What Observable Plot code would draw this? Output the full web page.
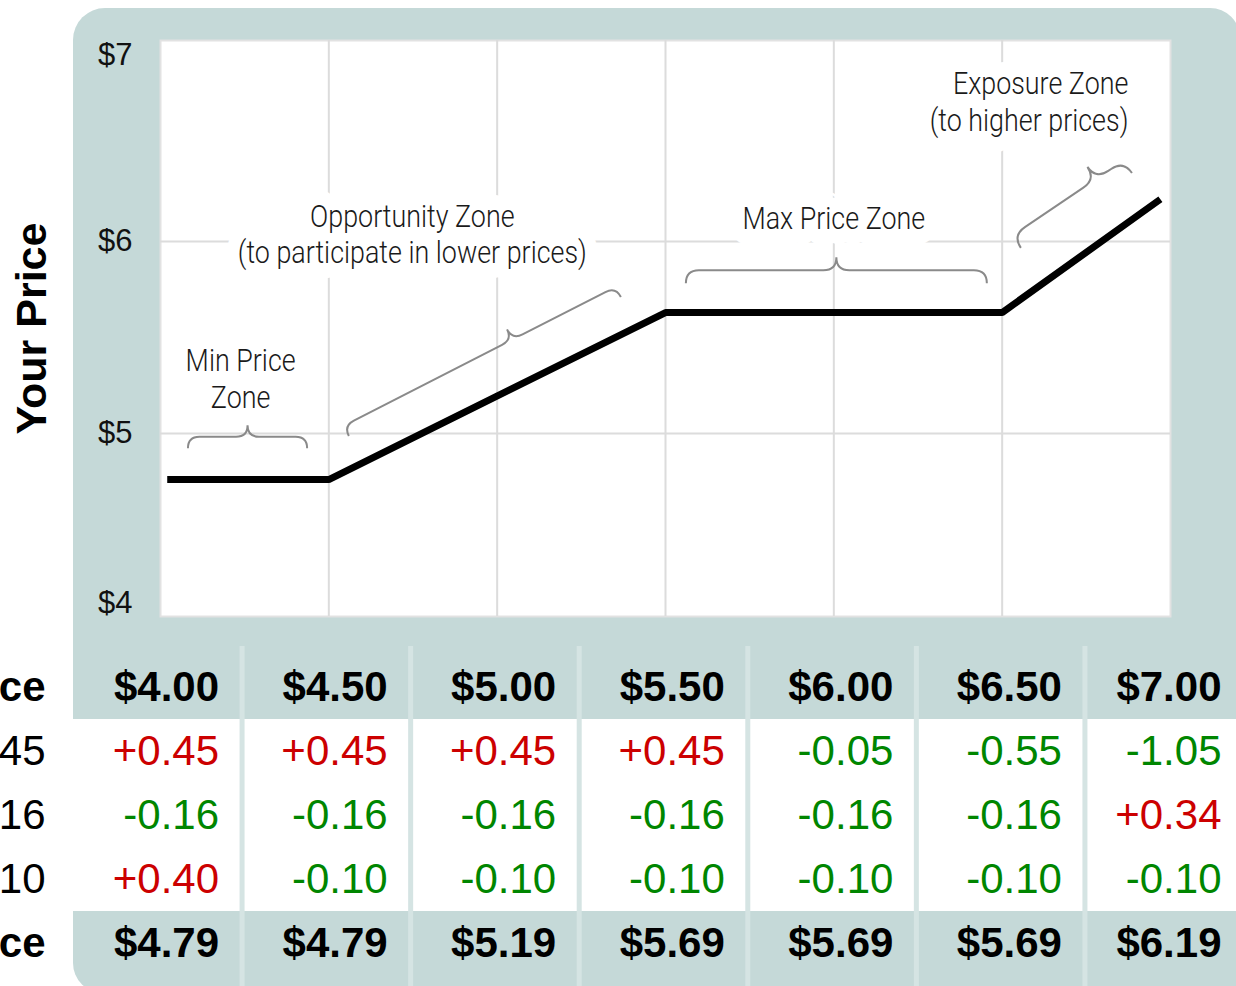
<!DOCTYPE html>
<html><head><meta charset="utf-8">
<script src="https://cdn.jsdelivr.net/npm/d3@7"></script>
<script src="https://cdn.jsdelivr.net/npm/@observablehq/plot@0.6"></script>
<style>
html,body{margin:0;padding:0;background:#fff;}
body{width:1236px;height:986px;overflow:hidden;position:relative;font-family:"Liberation Sans",Arial,sans-serif;}
#panel{position:absolute;left:73px;top:8px;width:1167px;height:985px;background:#c5d9d8;border-radius:32px 30px 0 30px;}
#chart{position:absolute;left:0;top:0;}
#table{position:absolute;left:0;top:630px;}
</style></head><body>
<div id="panel"></div><div id="chart"></div><div id="table"></div>
<script>
// ---- chart data ----
const lineX = [4.02, 4.5, 5.5, 6.5, 6.97];
const lineY = [4.76, 4.76, 5.63, 5.63, 6.22];
const xGrid = [4.5, 5, 5.5, 6, 6.5];
const yGrid = [5, 6];
const yTickMid = [5, 6];
const yTickTop = [7];
const yTickBottom = [4];
const yTitle = "Your Price";

// zone labels (data coordinates)
const zoneText = ["Min Price\nZone", "Opportunity Zone\n(to participate in lower prices)", "Max Price Zone", "Exposure Zone\n(to higher prices)"];
const zoneX = [4.238, 4.748, 6.0, 6.875];
const zoneY = [5.29, 6.042, 6.125, 6.732];
const zoneAlign = ["middle", "middle", "middle", "end"];

// braces (data coordinates of both ends)
const braceX1 = [4.083, 4.561, 5.562, 6.557];
const braceY1 = [4.92, 4.984, 5.78, 5.964];
const braceX2 = [4.437, 5.369, 6.456, 6.887];
const braceY2 = [4.92, 5.708, 5.78, 6.354];
const braceTip = [0.5, 0.62, 0.5, 0.75];

// ---- table data ----
const prices = ["$4.00", "$4.50", "$5.00", "$5.50", "$6.00", "$6.50", "$7.00"];
const adj1 = ["+0.45", "+0.45", "+0.45", "+0.45", "-0.05", "-0.55", "-1.05"];
const adj2 = ["-0.16", "-0.16", "-0.16", "-0.16", "-0.16", "-0.16", "+0.34"];
const adj3 = ["+0.40", "-0.10", "-0.10", "-0.10", "-0.10", "-0.10", "-0.10"];
const yourPrices = ["$4.79", "$4.79", "$5.19", "$5.69", "$5.69", "$5.69", "$6.19"];
const rowLabels = ["ce", "45", "16", "10", "ce"];

const TEAL_SEP = "#d5e4e3";
const GRID = "#dcdcdc";
const RED = "#cc0000";
const GREEN = "#008600";
const ZONE_FONT = "Roboto, Liberation Sans, Arial, sans-serif";
const ZONE_SQUEEZE = 0.84;

const points = lineX.map((x, i) => ({x, y: lineY[i]}));
const zones = zoneText.map((t, i) => ({t, x: zoneX[i], y: zoneY[i], a: zoneAlign[i]}));
const braces = braceX1.map((x1, i) => ({x1, y1: braceY1[i], x2: braceX2[i], y2: braceY2[i], f: braceTip[i]}));
const braceDepth = [23, 23, 26, 30];

function braceMark(index, scales) {
  const sc = scales && scales.x ? scales : arguments[1];
  const g = d3.create("svg:g").attr("fill", "none").attr("stroke", "#8a8a8a").attr("stroke-width", 2);
  braces.forEach((b, i) => {
    const ax = sc.x(b.x1), ay = sc.y(b.y1), bx = sc.x(b.x2), by = sc.y(b.y2);
    const L = Math.hypot(bx - ax, by - ay);
    const tx = (bx - ax) / L, ty = (by - ay) / L;
    const nx = ty, ny = -tx; // normal toward tip (up / up-left)
    const r = braceDepth[i] / 2;
    const cx = ax + tx * L * b.f, cy = ay + ty * L * b.f;
    const tipx = cx + nx * 2 * r, tipy = cy + ny * 2 * r;
    const p = d3.path();
    p.moveTo(ax, ay);
    p.quadraticCurveTo(ax + nx * r, ay + ny * r, ax + nx * r + tx * r, ay + ny * r + ty * r);
    p.lineTo(cx - tx * r + nx * r, cy - ty * r + ny * r);
    p.quadraticCurveTo(cx + nx * r, cy + ny * r, tipx, tipy);
    p.moveTo(bx, by);
    p.quadraticCurveTo(bx + nx * r, by + ny * r, bx + nx * r - tx * r, by + ny * r - ty * r);
    p.lineTo(cx + tx * r + nx * r, cy + ty * r + ny * r);
    p.quadraticCurveTo(cx + nx * r, cy + ny * r, tipx, tipy);
    g.append("path").attr("d", p.toString());
  });
  return g.node();
}

const tickOpts = {tickSize: 0, tickPadding: 28, fontSize: 31, tickFormat: d => "$" + d, label: null};
const zoneBase = {x: "x", y: "y", text: "t", fontSize: 32, fontFamily: ZONE_FONT, fontWeight: 300, lineHeight: 1.14};
const haloOpts = {...zoneBase, fill: "white", stroke: "white", strokeWidth: 30, strokeLinejoin: "round"};
const labelOpts = {...zoneBase, fill: "#1a1a1a"};
const mid = zones.filter(d => d.a === "middle");
const end = zones.filter(d => d.a === "end");

const chart = Plot.plot({
  width: 1236, height: 630,
  marginLeft: 160, marginRight: 66, marginTop: 40, marginBottom: 14,
  style: {background: "transparent", fontFamily: '"Liberation Sans",Arial,sans-serif', color: "#111"},
  x: {domain: [4, 7], axis: null},
  y: {domain: [4, 7], range: [625, 49], axis: null},
  marks: [
    Plot.frame({fill: "white", stroke: "#e2e2e2", strokeWidth: 2}),
    Plot.ruleX(xGrid, {stroke: GRID, strokeWidth: 2}),
    Plot.ruleY(yGrid, {stroke: GRID, strokeWidth: 2}),
    Plot.text(mid, {...haloOpts, textAnchor: "middle"}),
    Plot.text(end, {...haloOpts, textAnchor: "end"}),
    Plot.text(mid, {...labelOpts, textAnchor: "middle"}),
    Plot.text(end, {...labelOpts, textAnchor: "end"}),
    braceMark,
    Plot.line(points, {x: "x", y: "y", stroke: "black", strokeWidth: 7, strokeLinejoin: "miter", strokeLinecap: "butt"}),
    Plot.axisY(yTickMid, tickOpts),
    Plot.axisY(yTickTop, {...tickOpts, dy: 6}),
    Plot.axisY(yTickBottom, {...tickOpts, dy: -22}),
    Plot.text([yTitle], {frameAnchor: "left", textAnchor: "middle", rotate: -90, dx: -128, fontSize: 43, fontWeight: "bold", fill: "black"})
  ]
});
// condense the zone labels horizontally (narrow typeface look)
chart.querySelectorAll("g").forEach(g => {
  if (g.getAttribute("font-family") !== ZONE_FONT) return;
  g.querySelectorAll("text").forEach(t => {
    const tr = t.getAttribute("transform") || "";
    t.setAttribute("transform", tr + ` scale(${ZONE_SQUEEZE},1)`);
  });
});
document.getElementById("chart").append(chart);

// ---- table ----
const tableRows = [prices, adj1, adj2, adj3, yourPrices];
const nCols = prices.length;
const cells = tableRows.flatMap((vals, r) => vals.map((t, c) => ({r, c, t})));
const isBold = r => r === 0 || r === tableRows.length - 1;
const isLast = c => c === nCols - 1;
const colorOf = t => t.startsWith("+") ? RED : t.startsWith("-") ? GREEN : "black";
const bodyRows = [1, 2, 3];
const labels = rowLabels.map((t, r) => ({t, r}));
const cellOpts = {x: d => d.c + 1, y: d => d.r + 0.5, text: "t", textAnchor: "end", dx: -23, fontSize: 42};
const lastOpts = {...cellOpts, dx: -32};

const table = Plot.plot({
  width: 1236, height: 356,
  marginLeft: 73, marginRight: 0, marginTop: 16, marginBottom: 0,
  style: {background: "transparent", fontFamily: '"Liberation Sans",Arial,sans-serif', color: "black"},
  x: {domain: [0, nCols], range: [73, 1253], axis: null},
  y: {domain: [0, tableRows.length], range: [25, 345], axis: null},
  marks: [
    Plot.rect([bodyRows], {x1: () => 0, x2: () => nCols, y1: d => d[0], y2: d => d[d.length - 1] + 1, fill: "white"}),
    Plot.ruleX(d3.range(1, nCols), {stroke: TEAL_SEP, strokeWidth: 5}),
    Plot.text(cells.filter(d => isBold(d.r) && !isLast(d.c)), {...cellOpts, fontWeight: "bold", fill: "black"}),
    Plot.text(cells.filter(d => !isBold(d.r) && !isLast(d.c)), {...cellOpts, fill: d => colorOf(d.t)}),
    Plot.text(cells.filter(d => isBold(d.r) && isLast(d.c)), {...lastOpts, fontWeight: "bold", fill: "black"}),
    Plot.text(cells.filter(d => !isBold(d.r) && isLast(d.c)), {...lastOpts, fill: d => colorOf(d.t)}),
    Plot.text(labels.filter(d => isBold(d.r)), {x: () => 0, y: d => d.r + 0.5, text: "t", textAnchor: "end", dx: -28, fontSize: 42, fontWeight: "bold", fill: "black"}),
    Plot.text(labels.filter(d => !isBold(d.r)), {x: () => 0, y: d => d.r + 0.5, text: "t", textAnchor: "end", dx: -28, fontSize: 42, fill: "black"})
  ]
});
document.getElementById("table").append(table);
</script>
</body></html>
